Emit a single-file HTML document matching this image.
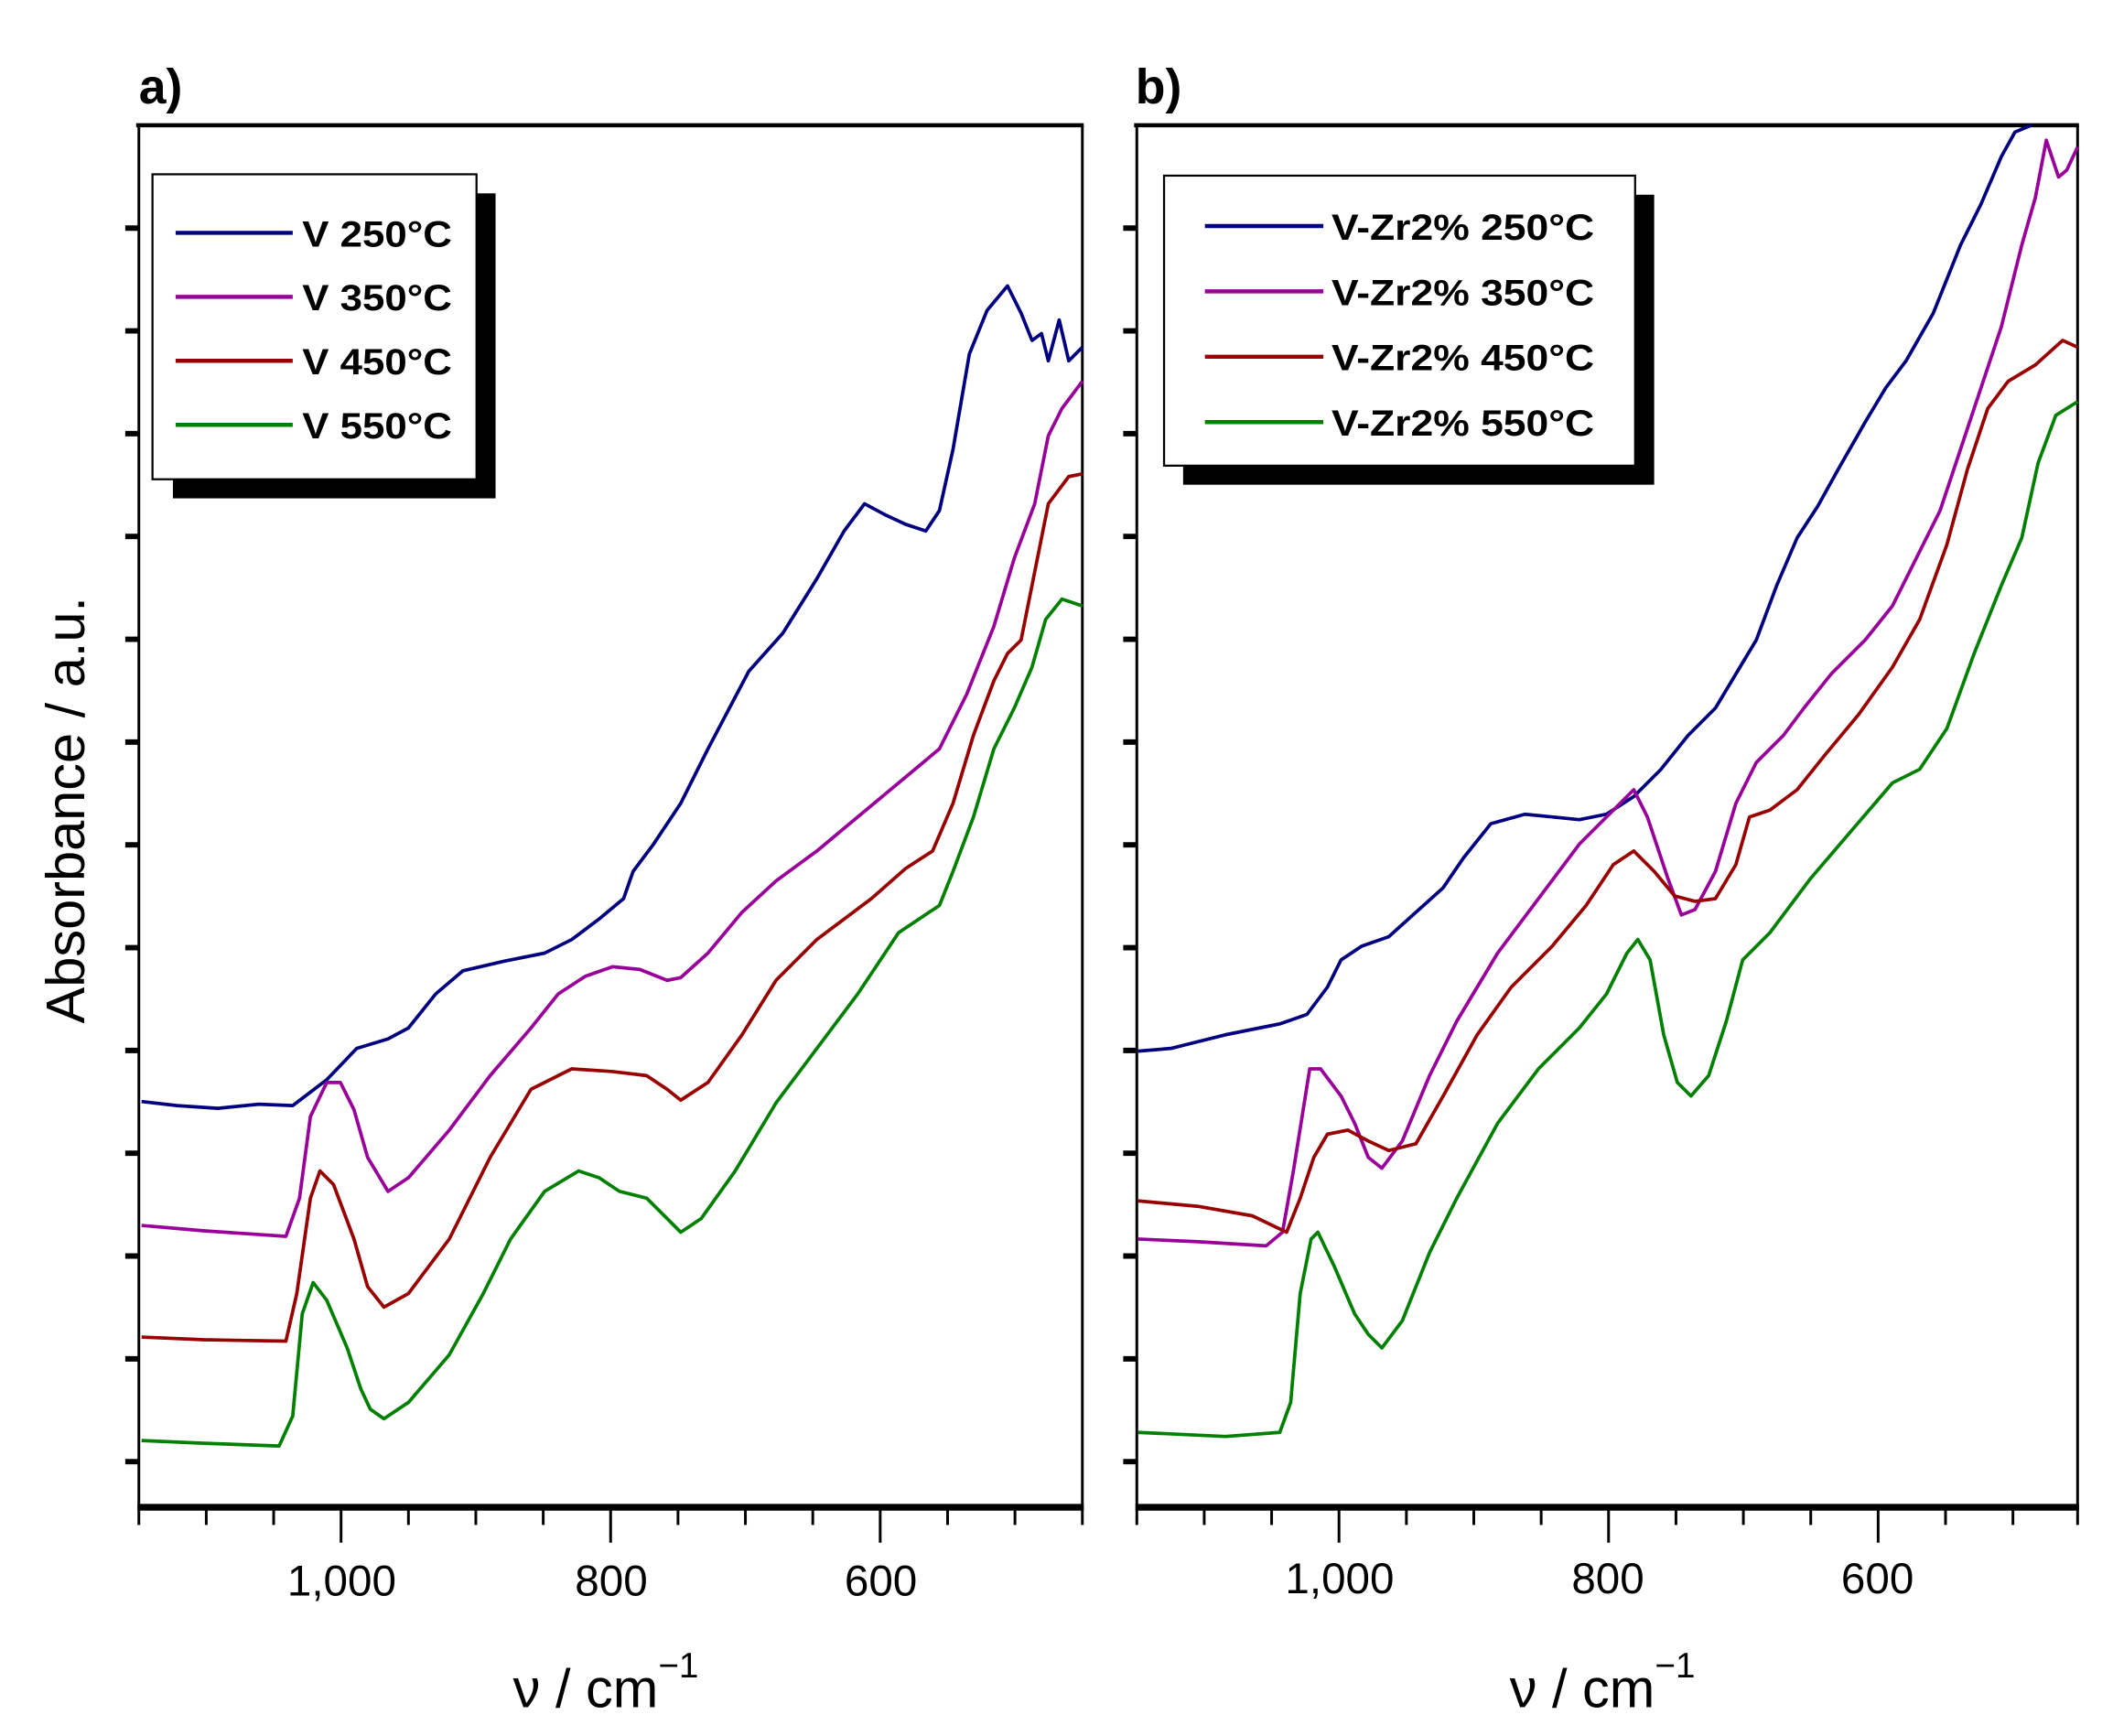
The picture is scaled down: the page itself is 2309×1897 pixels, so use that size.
<!DOCTYPE html>
<html><head><meta charset="utf-8"><style>html,body{margin:0;padding:0;background:#fff}svg{display:block}</style></head>
<body>
<svg width="2309" height="1897" viewBox="0 0 1552 1275" preserveAspectRatio="none" xmlns="http://www.w3.org/2000/svg" font-family="Liberation Sans, sans-serif">
<rect width="1552" height="1275" fill="#fff"/>
<text x="102" y="76" font-size="36" font-weight="bold">a)</text>
<text x="834" y="76" font-size="36" font-weight="bold">b)</text>
<text transform="translate(62,595) rotate(-90)" font-size="40" text-anchor="middle">Absorbance / a.u.</text>
<!-- axes frames -->
<g stroke="#000" fill="none">
<path d="M102 92 V1108 M795 92 V1108 M835 92 V1108 M1526 92 V1108" stroke-width="2"/>
<path d="M100 92 H796 M833 92 H1527" stroke-width="3"/>
<path d="M101 1107 H796 M834 1107 H1527" stroke-width="5"/>
<g stroke-width="2">
<path d="M102 1108v12M151.5 1108v12M201 1108v12M250.5 1108v25M300 1108v12M349.5 1108v12M399 1108v12M448.5 1108v25M498 1108v12M547.5 1108v12M597 1108v12M646.5 1108v25M696 1108v12M745.5 1108v12M795 1108v12"/>
<path transform="translate(733,0)" d="M102 1108v12M151.5 1108v12M201 1108v12M250.5 1108v25M300 1108v12M349.5 1108v12M399 1108v12M448.5 1108v25M498 1108v12M547.5 1108v12M597 1108v12M646.5 1108v25M696 1108v12M745.5 1108v12M793 1108v12"/>
</g>
<g stroke-width="4">
<path d="M92 167.5h10M92 243h10M92 318.5h10M92 394h10M92 469.5h10M92 545h10M92 620.5h10M92 696h10M92 771.5h10M92 847h10M92 922.5h10M92 998h10M92 1073.5h10"/>
<path transform="translate(733,0)" d="M92 167.5h10M92 243h10M92 318.5h10M92 394h10M92 469.5h10M92 545h10M92 620.5h10M92 696h10M92 771.5h10M92 847h10M92 922.5h10M92 998h10M92 1073.5h10"/>
</g>
</g>
<g font-size="32" text-anchor="middle">
<text x="251" y="1172">1,000</text><text x="449" y="1172">800</text><text x="647" y="1172">600</text>
<text x="984" y="1170">1,000</text><text x="1181" y="1170">800</text><text x="1379" y="1170">600</text>
</g>
<text x="445" y="1254" font-size="40" text-anchor="middle">ν / cm<tspan font-size="26" dy="-22">−1</tspan></text>
<text x="1177" y="1254" font-size="40" text-anchor="middle">ν / cm<tspan font-size="26" dy="-22">−1</tspan></text>

<g fill="none" stroke-width="2.5" stroke-linejoin="round">
<!-- panel a -->
<polyline stroke="#000080" points="104,809 130,812 160,814 190,811 215,812 240,793 262,770 285,763 300,755 320,730 340,713 370,706 400,700 420,690 440,675 458,660 465,640 480,620 500,590 520,550 550,493 575,465 600,425 620,390 635,370 650,378 665,385 680,390 690,375 700,330 712,260 725,228 740,210 750,230 758,250 765,245 770,265 778,235 785,265 795,255"/>
<polyline stroke="#990099" points="104,900 150,904 210,908 220,880 228,820 240,795 250,795 260,815 270,850 285,875 300,865 330,830 360,790 390,755 410,730 430,717 450,710 470,712 490,720 500,718 520,700 545,670 570,647 600,625 630,600 660,575 690,550 710,510 730,460 745,410 760,370 770,320 780,300 795,280"/>
<polyline stroke="#990000" points="104,982 150,984 210,985 218,950 228,880 235,860 245,870 260,910 270,945 282,960 300,950 330,910 360,850 390,800 420,785 450,787 475,790 490,800 500,808 520,795 545,760 570,720 600,690 640,660 665,638 685,625 700,590 715,540 730,500 740,480 750,470 760,420 770,370 785,350 795,348"/>
<polyline stroke="#008000" points="104,1058 150,1060 205,1062 215,1040 222,965 230,942 240,955 255,990 265,1020 272,1035 282,1042 300,1030 330,995 355,950 375,910 400,875 425,860 440,865 455,875 475,880 490,895 500,905 515,895 540,860 570,810 600,770 630,730 660,685 690,665 700,640 715,600 730,550 745,520 758,490 768,455 780,440 795,445"/>
<!-- panel b -->
<polyline stroke="#000080" points="836,772 860,770 900,760 940,752 960,745 975,725 985,705 1000,695 1020,688 1040,670 1060,652 1075,630 1095,605 1120,598 1140,600 1160,602 1180,598 1200,585 1220,565 1240,540 1260,520 1275,495 1290,470 1305,430 1320,395 1335,372 1350,345 1370,310 1385,285 1400,265 1420,230 1440,180 1455,150 1470,115 1480,97 1492,92"/>
<polyline stroke="#990099" points="836,910 880,912 930,915 942,905 950,860 962,785 970,785 985,805 995,825 1005,850 1015,858 1030,838 1050,790 1070,750 1100,700 1130,660 1160,620 1185,595 1200,580 1210,600 1225,645 1235,672 1245,668 1260,640 1275,590 1290,560 1310,540 1325,520 1345,495 1370,470 1390,445 1410,405 1425,375 1440,330 1455,285 1470,240 1485,180 1495,145 1503,103 1512,130 1518,125 1526,108"/>
<polyline stroke="#990000" points="836,882 880,886 920,893 945,905 955,880 965,850 975,833 990,830 1005,838 1020,845 1040,840 1060,805 1085,760 1110,725 1140,695 1165,665 1185,635 1200,625 1215,640 1230,658 1245,662 1260,660 1275,635 1285,600 1300,595 1320,580 1340,555 1365,525 1390,490 1410,455 1430,400 1445,345 1460,300 1475,280 1495,268 1515,250 1526,255"/>
<polyline stroke="#008000" points="836,1052 900,1055 940,1052 948,1030 955,950 963,910 968,905 980,930 995,965 1005,980 1015,990 1030,970 1050,920 1070,880 1100,825 1130,785 1160,755 1180,730 1195,700 1203,690 1212,705 1222,760 1232,795 1242,805 1255,790 1268,750 1280,705 1300,685 1330,645 1360,610 1390,575 1410,565 1430,535 1450,480 1470,430 1485,395 1497,340 1510,305 1526,295"/>
</g>

<!-- legend a -->
<rect x="127" y="142" width="237" height="224" fill="#000"/>
<rect x="112" y="128" width="238" height="224" fill="#fff" stroke="#000" stroke-width="1.5"/>
<g stroke-width="3">
<line x1="129" y1="171" x2="215" y2="171" stroke="#000080"/>
<line x1="129" y1="218" x2="215" y2="218" stroke="#990099"/>
<line x1="129" y1="265" x2="215" y2="265" stroke="#990000"/>
<line x1="129" y1="312" x2="215" y2="312" stroke="#008000"/>
</g>
<g font-size="27" font-weight="bold">
<text x="222" y="181" textLength="110" lengthAdjust="spacingAndGlyphs">V 250°C</text>
<text x="222" y="228" textLength="110" lengthAdjust="spacingAndGlyphs">V 350°C</text>
<text x="222" y="275" textLength="110" lengthAdjust="spacingAndGlyphs">V 450°C</text>
<text x="222" y="322" textLength="110" lengthAdjust="spacingAndGlyphs">V 550°C</text>
</g>
<!-- legend b -->
<rect x="869" y="143" width="346" height="213" fill="#000"/>
<rect x="855" y="129" width="346" height="213" fill="#fff" stroke="#000" stroke-width="1.5"/>
<g stroke-width="3">
<line x1="885" y1="166" x2="972" y2="166" stroke="#000080"/>
<line x1="885" y1="214" x2="972" y2="214" stroke="#990099"/>
<line x1="885" y1="262" x2="972" y2="262" stroke="#990000"/>
<line x1="885" y1="310" x2="972" y2="310" stroke="#008000"/>
</g>
<g font-size="27" font-weight="bold">
<text x="978" y="176" textLength="193" lengthAdjust="spacingAndGlyphs">V-Zr2% 250°C</text>
<text x="978" y="224" textLength="193" lengthAdjust="spacingAndGlyphs">V-Zr2% 350°C</text>
<text x="978" y="272" textLength="193" lengthAdjust="spacingAndGlyphs">V-Zr2% 450°C</text>
<text x="978" y="320" textLength="193" lengthAdjust="spacingAndGlyphs">V-Zr2% 550°C</text>
</g>
</svg>
</body></html>
